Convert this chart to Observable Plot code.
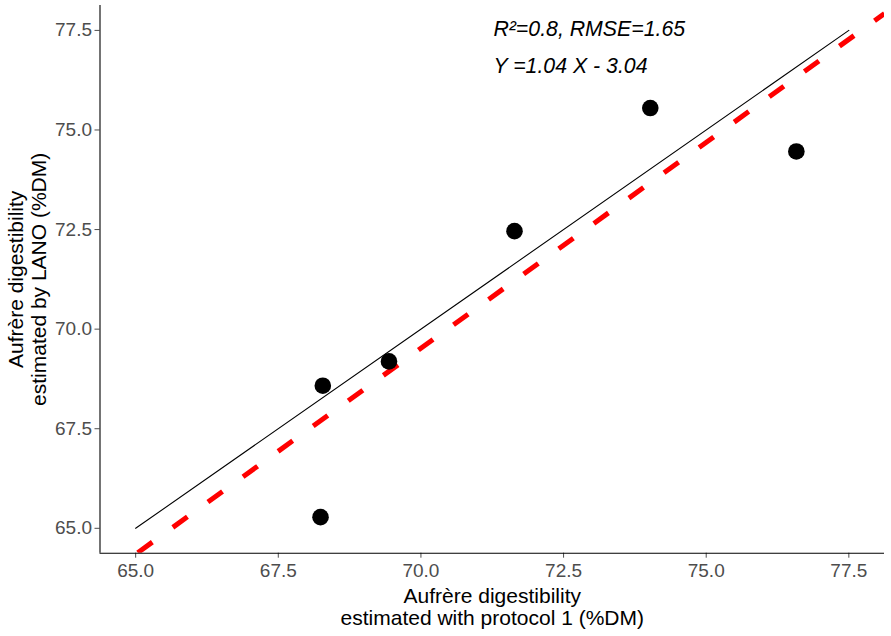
<!DOCTYPE html>
<html>
<head>
<meta charset="utf-8">
<script src="https://cdn.jsdelivr.net/npm/d3@7"></script>
<script src="https://cdn.jsdelivr.net/npm/@observablehq/plot@0.6"></script>
<style>
  html, body { margin: 0; padding: 0; background: #fff; }
  #chart svg { display: block; }
</style>
</head>
<body>
<div id="chart"></div>
<script>
// ---- data ----
const protocol1 = [68.28, 68.24, 69.44, 71.64, 74.02, 76.58];   // x: estimated with protocol 1
const lano      = [68.58, 65.28, 69.19, 72.46, 75.55, 74.46];   // y: estimated by LANO
const xTicks = [65, 67.5, 70, 72.5, 75, 77.5];
const yTicks = [65, 67.5, 70, 72.5, 75, 77.5];
const axisDomain = [64.375, 78.125];
const identityEnds = [65, 77.5];            // 1:1 line end points (x = y)
const fitSlope = 1.034;                      // dashed fitted line as drawn
const fitIntercept = -2.86;
const annotText = ["R²=0.8, RMSE=1.65", "Y =1.04 X - 3.04"];
const annotX = [71.27, 71.27];
const annotY = [77.54, 76.61];
const xTitle = "Aufrère digestibility\nestimated with protocol 1 (%DM)";
const yTitle = "Aufrère digestibility\nestimated by LANO (%DM)";

const points = protocol1.map((x, i) => ({x, y: lano[i]}));
const identity = identityEnds.map(v => ({x: v, y: v}));
const fitLine = axisDomain.map(x => ({x, y: fitSlope * x + fitIntercept}));
const annots = annotText.map((t, i) => ({t, x: annotX[i], y: annotY[i]}));

const chart = Plot.plot({
  width: 891,
  height: 636,
  marginLeft: 99.5,
  marginRight: 7,
  marginTop: 5,
  marginBottom: 83.3,
  style: {fontFamily: "'Liberation Sans', Arial, sans-serif", fontSize: "19px", background: "#fff"},
  x: {domain: axisDomain},
  y: {domain: axisDomain},
  marks: [
    Plot.line(fitLine, {x: "x", y: "y", stroke: "#FF0000", strokeWidth: 5, strokeDasharray: "18,25.27", strokeDashoffset: -3.3, strokeLinecap: "butt", clip: true}),
    Plot.line(identity, {x: "x", y: "y", stroke: "#000", strokeWidth: 1.1}),
    Plot.dot(points, {x: "x", y: "y", r: 8.3, fill: "#000", stroke: "none"}),
    Plot.text(annots, {x: "x", y: "y", text: "t", textAnchor: "start", fontSize: 21.3, fontStyle: "italic", fill: "#000"}),
    Plot.axisX({ticks: xTicks, tickFormat: d => d.toFixed(1), tickSize: 5, tickPadding: 5, label: null, color: "#4D4D4D", fontSize: 19}),
    Plot.axisY({ticks: yTicks, tickFormat: d => d.toFixed(1), tickSize: 5, tickPadding: 3, label: null, color: "#4D4D4D", fontSize: 19}),
    Plot.ruleY([axisDomain[0]], {stroke: "#000", strokeWidth: 1.1}),
    Plot.ruleX([axisDomain[0]], {stroke: "#000", strokeWidth: 1.1}),
    Plot.text([xTitle], {text: d => d, frameAnchor: "bottom", textAnchor: "middle", lineAnchor: "middle", dy: 53.5, fontSize: 21, lineHeight: 1.08, fill: "#000"}),
    Plot.text([yTitle], {text: d => d, frameAnchor: "left", textAnchor: "middle", lineAnchor: "middle", rotate: -90, dx: -73, fontSize: 21, lineHeight: 1.08, fill: "#000"})
  ]
});
document.getElementById("chart").appendChild(chart);
</script>
</body>
</html>
